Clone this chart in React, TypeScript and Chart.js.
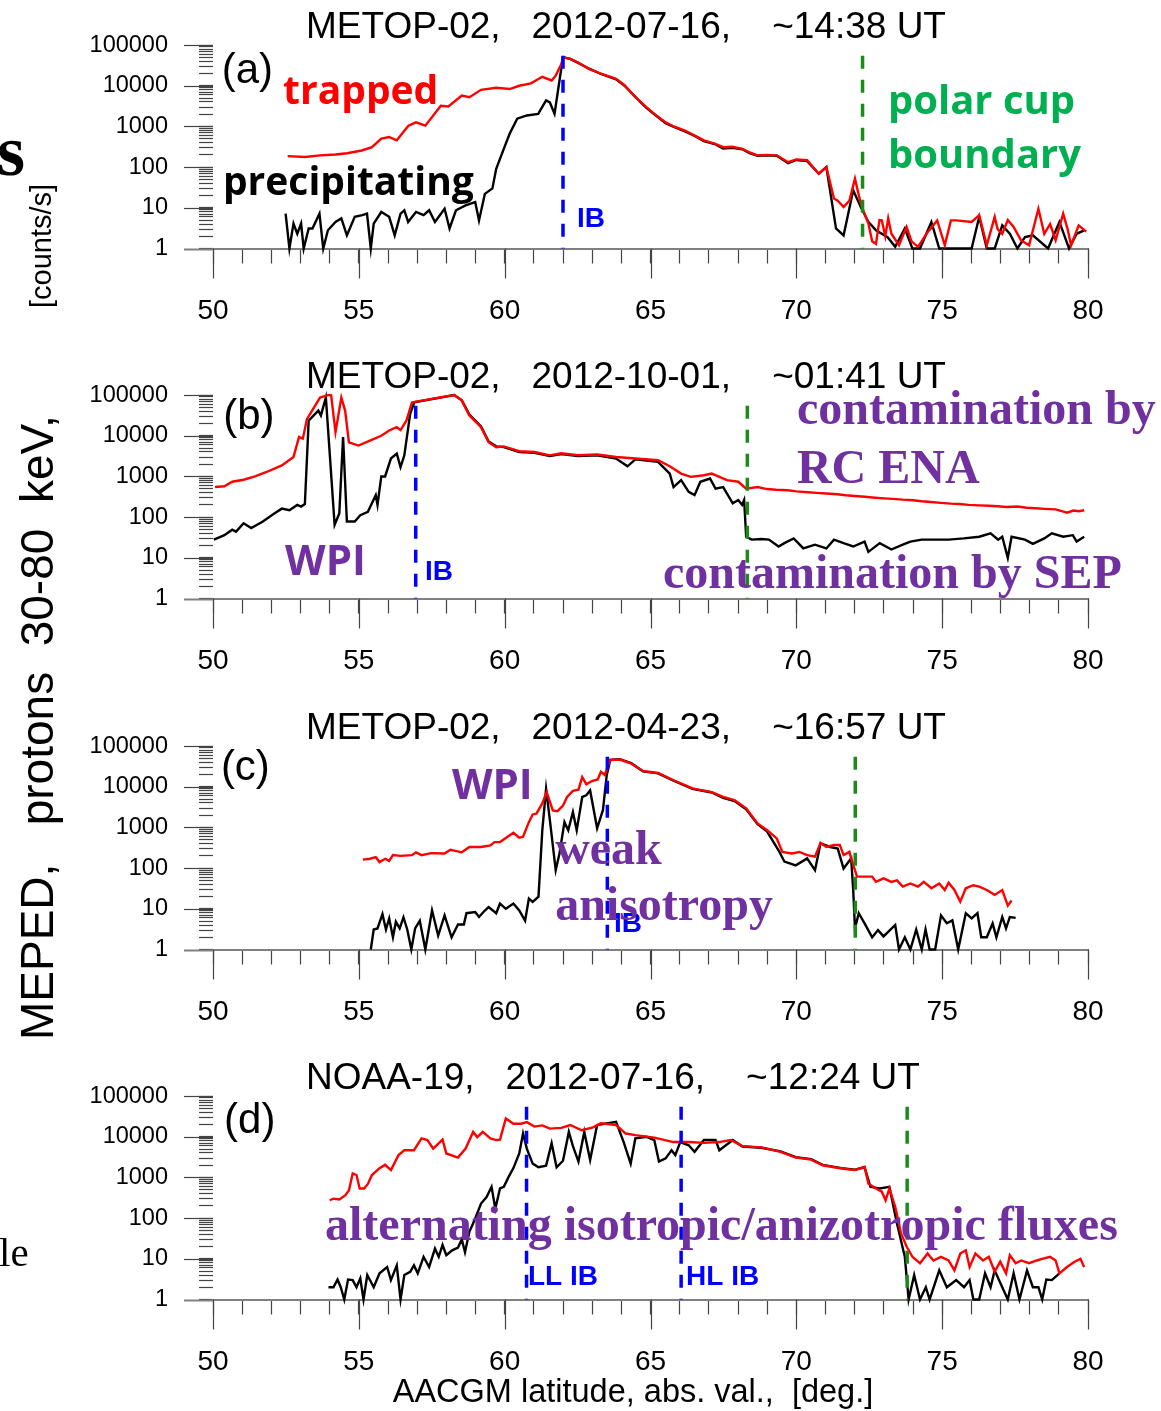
import React, { useEffect, useRef } from "react";
import { Chart, registerables } from "chart.js";

Chart.register(...registerables);

// ---------------- axes / ticks ----------------
const LAT_MIN = 50;
const LAT_MAX = 80;
const COUNT_MIN = 1;
const COUNT_MAX = 100000;
const MARKER_TOP = 55000;

const xTickValues = [50, 51, 52, 53, 54, 55, 56, 57, 58, 59, 60, 61, 62, 63, 64, 65, 66, 67, 68, 69, 70, 71, 72, 73, 74, 75, 76, 77, 78, 79, 80];
const xMajorTicks = [50, 55, 60, 65, 70, 75, 80];
const yTickValues = [
  1, 2, 3, 4, 5, 6, 7, 8, 9,
  10, 20, 30, 40, 50, 60, 70, 80, 90,
  100, 200, 300, 400, 500, 600, 700, 800, 900,
  1000, 2000, 3000, 4000, 5000, 6000, 7000, 8000, 9000,
  10000, 20000, 30000, 40000, 50000, 60000, 70000, 80000, 90000,
  100000,
];
const yMajorTicks = [1, 10, 100, 1000, 10000, 100000];

// ---------------- titles ----------------
const titleA = "METOP-02,   2012-07-16,    ~14:38 UT";
const titleB = "METOP-02,   2012-10-01,    ~01:41 UT";
const titleC = "METOP-02,   2012-04-23,    ~16:57 UT";
const titleD = "NOAA-19,   2012-07-16,    ~12:24 UT";
const xAxisTitle = "AACGM latitude, abs. val.,  [deg.]";
const yAxisTitle = "MEPED,   protons  30-80  keV,";
const yAxisUnit = "[counts/s]";

// ---------------- data: [latitude, counts/s] ----------------
// panel (a)
const aTrapped = [
  [52.56, 186], [53.15, 178], [53.67, 195], [54.2, 204], [54.6, 219], [55.1, 257], [55.45, 309], [55.77, 501],
  [56.04, 550], [56.3, 457], [56.7, 1047], [56.96, 1259], [57.28, 1047], [57.81, 3236], [58.07, 3090], [58.53, 5754],
  [58.79, 5248], [59.19, 7943], [59.71, 8913], [60.17, 8318], [60.5, 10000], [60.9, 11482], [61.29, 16596], [61.61, 13490],
  [61.75, 17783], [61.94, 33884], [62.0, 50119], [62.25, 45709], [62.5, 38000], [62.9, 25704], [63.3, 19950], [63.82, 14791],
  [64.1, 10470], [64.48, 5248], [64.7, 3800], [64.87, 2951], [65.13, 2042], [65.52, 1259], [65.8, 1000], [66.18, 794],
  [66.5, 603], [66.83, 457], [67.2, 380], [67.49, 309], [67.8, 316], [68.15, 282], [68.4, 229], [68.67, 195],
  [69.0, 200], [69.33, 195], [69.72, 132], [70.0, 155], [70.37, 148], [70.77, 69], [71.03, 100], [71.29, 17],
  [71.42, 15], [71.62, 10.5], [71.82, 15], [72.01, 52], [72.21, 12.6], [72.47, 4.1], [72.6, 1.5], [72.73, 1.3],
  [72.85, 5], [72.93, 4.9], [73.05, 2], [73.15, 5.5], [73.26, 2.3], [73.52, 1.2], [73.78, 3.4], [73.95, 1.5],
  [74.17, 1.1], [74.5, 2.5], [74.83, 4.9], [75.09, 1.2], [75.3, 4.9], [75.48, 4.9], [76.01, 4.5], [76.27, 6.6],
  [76.53, 1.2], [76.8, 6], [76.9, 3], [77.06, 2.3], [77.25, 5], [77.45, 3.4], [77.7, 1.6], [77.98, 1.2],
  [78.3, 9.5], [78.5, 2.3], [78.7, 4], [78.89, 1.6], [79.15, 7.2], [79.3, 3], [79.42, 1.2], [79.68, 3.7], [79.94, 2.6],
];
const aPrecip = [
  [52.49, 7.2], [52.62, 1], [52.76, 4.1], [52.89, 2.3], [53.02, 4.1], [53.11, 1], [53.28, 3.1], [53.41, 3.1],
  [53.65, 7.2], [53.78, 1], [53.94, 2.8], [54.2, 4.5], [54.4, 5.5], [54.59, 2.1], [54.86, 6], [55.12, 6.6],
  [55.28, 7.2], [55.41, 1], [55.51, 4.1], [55.77, 7.9], [56.04, 6], [56.23, 2.1], [56.43, 7.2], [56.56, 8.7],
  [56.69, 4.5], [56.96, 7.9], [57.22, 6.6], [57.41, 8.7], [57.61, 4.5], [57.94, 9.5], [58.11, 3.1], [58.33, 8.7],
  [58.66, 11.5], [58.99, 13.8], [59.12, 4.9], [59.32, 22], [59.58, 30], [59.71, 91], [59.97, 282], [60.17, 661],
  [60.43, 1549], [60.76, 1862], [61.15, 2042], [61.42, 4365], [61.55, 3890], [61.71, 2042], [61.88, 13490], [62.0, 50119],
  [62.25, 45709], [62.5, 37000], [62.9, 26303], [63.3, 19500], [63.82, 14454], [64.1, 10200], [64.48, 5370], [64.7, 3700],
  [64.87, 2818], [65.13, 1995], [65.52, 1202], [65.8, 980], [66.18, 759], [66.5, 590], [66.83, 437], [67.2, 370],
  [67.49, 288], [67.8, 300], [68.15, 275], [68.4, 220], [68.67, 191], [69.0, 195], [69.33, 191], [69.72, 126],
  [70.0, 150], [70.37, 141], [70.77, 69], [71.03, 100], [71.36, 3.1], [71.62, 2.1], [71.95, 27], [72.21, 10.5],
  [72.47, 4.5], [72.73, 2.8], [73.13, 1.9], [73.39, 1.1], [73.72, 3.1], [73.98, 1], [74.24, 1], [74.63, 4.5],
  [74.9, 1], [76.01, 1], [76.27, 6], [76.53, 1], [76.8, 1], [77.06, 3.7], [77.32, 2.3], [77.58, 1],
  [77.84, 1.9], [78.11, 2.1], [78.63, 1], [79.02, 4.5], [79.35, 1], [79.61, 2.3], [79.87, 2.8],
];

// panel (b)
const bTrapped = [
  [50.07, 550], [50.39, 575], [50.66, 741], [51.05, 832], [51.44, 1000], [51.84, 1288], [52.36, 1862], [52.76, 3020],
  [52.95, 9333], [53.08, 8511], [53.22, 25704], [53.67, 87096], [53.94, 100000], [54.05, 100000], [54.2, 12303], [54.4, 87096],
  [54.53, 41687], [54.66, 6918], [54.99, 5754], [55.38, 7586], [55.77, 10000], [56.04, 13490], [56.3, 16218], [56.43, 13804],
  [56.63, 23442], [56.82, 66069], [56.96, 69183], [58.27, 100000], [58.53, 74131], [58.79, 31623], [59.19, 16218], [59.45, 6918],
  [59.71, 5248], [59.97, 5495], [60.5, 4169], [61.02, 3981], [61.55, 3311], [61.94, 3715], [62.51, 3311], [63.17, 3467],
  [63.82, 3020], [64.48, 2754], [65.26, 2512], [65.66, 1778], [66.05, 1175], [66.38, 977], [66.83, 1072], [67.1, 1175],
  [67.62, 813], [68.01, 741], [68.28, 501], [68.67, 550], [69.0, 490], [69.3, 470], [69.71, 457], [70.0, 430],
  [70.4, 410], [70.7, 395], [71.03, 380], [71.4, 365], [71.7, 345], [72.0, 330], [72.34, 316], [72.7, 300],
  [73.0, 290], [73.3, 282], [73.65, 269], [74.0, 260], [74.3, 245], [74.6, 235], [74.96, 224], [75.3, 215],
  [75.6, 210], [75.9, 200], [76.27, 195], [76.6, 190], [76.9, 185], [77.2, 178], [77.58, 182], [77.9, 170],
  [78.2, 165], [78.5, 160], [78.89, 155], [79.1, 140], [79.28, 129], [79.5, 145], [79.7, 140], [79.87, 148],
];
const bPrecip = [
  [50.03, 28], [50.39, 36], [50.66, 49], [50.79, 44], [51.05, 71], [51.31, 54], [51.71, 78], [52.1, 123],
  [52.36, 162], [52.62, 148], [52.89, 200], [53.02, 182], [53.15, 209], [53.28, 23442], [53.61, 41687], [53.7, 31623],
  [53.87, 87096], [54.17, 65], [54.33, 123], [54.46, 9333], [54.59, 78], [54.86, 78], [55.05, 112], [55.31, 135],
  [55.58, 347], [55.64, 200], [55.77, 1000], [55.9, 1000], [56.1, 2754], [56.3, 3631], [56.43, 1698], [56.56, 3311],
  [56.76, 34674], [56.9, 66069], [58.27, 100000], [58.53, 74131], [58.79, 33113], [59.19, 16982], [59.45, 7244], [59.71, 5495],
  [59.97, 5248], [60.5, 3981], [61.02, 3802], [61.55, 3162], [61.94, 3548], [62.51, 3162], [63.17, 3311], [63.82, 2754],
  [64.21, 1778], [64.48, 2630], [65.26, 2291], [65.66, 1175], [65.79, 550], [66.05, 813], [66.31, 417], [66.51, 347],
  [66.71, 741], [67.04, 891], [67.23, 501], [67.49, 550], [67.69, 316], [67.82, 219], [68.01, 263], [68.14, 200],
  [68.21, 263], [68.28, 33], [68.47, 28], [68.8, 29], [69.06, 28], [69.39, 19], [69.59, 23], [69.91, 30],
  [70.24, 17], [70.64, 21], [71.03, 17], [71.29, 28], [71.62, 23], [71.95, 19], [72.34, 25], [72.47, 14],
  [72.86, 23], [73.26, 16], [73.65, 21], [73.91, 25], [74.3, 28], [74.7, 28], [75.22, 28], [75.74, 30],
  [76.27, 33], [76.66, 40], [76.92, 28], [77.06, 33], [77.25, 10], [77.38, 33], [77.84, 28], [78.11, 22],
  [78.5, 30], [78.76, 40], [79.15, 33], [79.48, 36], [79.61, 25], [79.87, 33],
];

// panel (c)
const cTrapped = [
  [55.14, 162], [55.38, 170], [55.58, 186], [55.71, 141], [55.9, 170], [56.04, 151], [56.17, 209], [56.43, 200],
  [56.82, 209], [56.96, 245], [57.15, 209], [57.48, 234], [57.94, 229], [58.14, 282], [58.53, 245], [58.79, 331],
  [59.19, 331], [59.51, 363], [59.65, 437], [59.84, 437], [60.1, 589], [60.3, 741], [60.5, 562], [60.63, 589],
  [60.83, 1349], [60.96, 2089], [61.09, 2188], [61.29, 3890], [61.44, 7413], [61.65, 2630], [61.81, 2512], [62.0, 3467],
  [62.14, 5623], [62.34, 7943], [62.53, 8511], [62.66, 17378], [62.8, 11482], [62.99, 13804], [63.19, 15136], [63.3, 23442],
  [63.43, 19498], [63.62, 45709], [63.95, 46774], [64.34, 37154], [64.74, 24547], [65.26, 21878], [65.79, 14454], [66.44, 9120],
  [67.1, 7413], [67.49, 5623], [67.88, 4677], [68.28, 2951], [68.67, 1259], [69.0, 851], [69.33, 537], [69.52, 251],
  [69.85, 229], [70.11, 251], [70.37, 209], [70.64, 191], [70.83, 417], [71.03, 331], [71.29, 372], [71.49, 372],
  [71.62, 209], [71.82, 251], [71.88, 174], [72.08, 62], [72.34, 62], [72.6, 62], [72.73, 46], [72.99, 56],
  [73.26, 46], [73.45, 50], [73.65, 35], [73.91, 42], [74.17, 35], [74.37, 46], [74.63, 32], [74.9, 42],
  [75.09, 29], [75.22, 44], [75.42, 29], [75.62, 15], [75.81, 32], [76.07, 38], [76.27, 35], [76.53, 29],
  [76.8, 22], [77.06, 29], [77.25, 12], [77.38, 16],
];
const cPrecip = [
  [55.41, 1], [55.51, 3.1], [55.64, 3.3], [55.81, 7.4], [55.93, 3.1], [56.04, 5.8], [56.17, 2], [56.27, 4.8],
  [56.4, 3.3], [56.53, 6.2], [56.66, 3.1], [56.8, 1], [56.93, 3.3], [57.09, 5.1], [57.28, 1], [57.51, 9.1],
  [57.72, 2.2], [57.94, 6.9], [58.18, 2], [58.4, 4.1], [58.6, 4.1], [58.69, 7.8], [58.99, 8.3], [59.12, 6.3],
  [59.32, 9.1], [59.45, 11], [59.71, 7.8], [59.84, 13.5], [60.04, 10], [60.3, 13.5], [60.5, 9.1], [60.7, 5.1],
  [60.83, 17.8], [60.96, 14.8], [61.16, 20], [61.29, 851], [61.42, 8913], [61.55, 1514], [61.75, 89], [61.88, 229],
  [62.05, 1349], [62.18, 851], [62.34, 2399], [62.47, 851], [62.66, 5623], [62.8, 6166], [62.93, 8128], [63.17, 955],
  [63.37, 2692], [63.5, 19498], [63.62, 45709], [63.95, 47863], [64.34, 38019], [64.74, 23988], [65.26, 21380], [65.79, 14125],
  [66.44, 8913], [67.1, 7244], [67.49, 5370], [67.88, 4467], [68.28, 2818], [68.67, 1202], [69.0, 794], [69.39, 275],
  [69.59, 145], [69.98, 117], [70.37, 174], [70.64, 89], [70.83, 407], [71.16, 331], [71.42, 302], [71.62, 98],
  [71.88, 174], [71.95, 29], [72.01, 3.3], [72.14, 7.8], [72.34, 4.4], [72.6, 2], [72.8, 3], [72.99, 2.1],
  [73.39, 4], [73.52, 1], [73.72, 2], [73.91, 1], [74.11, 3.1], [74.3, 1], [74.43, 3.1], [74.57, 1],
  [74.76, 1], [74.96, 6.9], [75.16, 4.4], [75.35, 5.2], [75.55, 1], [75.81, 7.8], [76.01, 5.8], [76.21, 7.8],
  [76.34, 2], [76.53, 2], [76.73, 4.4], [76.86, 2], [77.06, 6.3], [77.19, 3.3], [77.32, 6.3], [77.52, 6],
];

// panel (d)
const dTrapped = [
  [54.0, 275], [54.13, 302], [54.33, 288], [54.53, 363], [54.66, 479], [54.79, 1259], [54.92, 1148], [55.03, 537],
  [55.18, 537], [55.31, 692], [55.45, 1148], [55.71, 1698], [55.9, 2042], [56.1, 1514], [56.36, 3548], [56.56, 4677],
  [56.89, 4677], [57.15, 9120], [57.35, 8318], [57.55, 5129], [57.87, 8511], [58.0, 3890], [58.4, 3090], [58.66, 5129],
  [58.92, 13183], [59.06, 9772], [59.25, 13183], [59.51, 9120], [59.71, 8318], [59.84, 8511], [60.04, 28184], [60.3, 20893],
  [60.56, 20893], [60.76, 22909], [61.02, 17783], [61.29, 19055], [61.55, 15849], [61.94, 16596], [62.25, 19498], [62.64, 14454],
  [63.03, 16982], [63.3, 21380], [63.82, 19498], [64.15, 12023], [64.48, 10965], [65.13, 9550], [65.79, 7413], [66.31, 7413],
  [66.83, 7079], [67.36, 7413], [67.75, 8318], [68.15, 5888], [68.8, 5495], [69.46, 4266], [69.98, 3090], [70.51, 2754],
  [70.9, 1995], [71.55, 1660], [72.01, 1514], [72.34, 1820], [72.47, 708], [72.73, 537], [72.93, 447], [73.06, 275],
  [73.19, 537], [73.39, 191], [73.59, 42], [73.78, 20], [73.98, 11.2], [74.24, 7.8], [74.5, 13.5], [74.7, 9.1],
  [74.96, 11.2], [75.22, 9.1], [75.42, 5.2], [75.62, 13.5], [75.81, 16.2], [75.94, 6.3], [76.14, 13.5], [76.4, 9.1],
  [76.6, 11.2], [76.8, 4.8], [76.99, 8.5], [77.19, 4.4], [77.32, 12.3], [77.52, 7.8], [77.71, 9.1], [77.98, 7.8],
  [78.24, 9.1], [78.43, 10], [78.7, 11.2], [78.89, 9.1], [79.02, 4.4], [79.28, 6.3], [79.54, 8.5], [79.74, 10], [79.87, 6.3],
];
const dPrecip = [
  [53.96, 2], [54.13, 2], [54.27, 3.1], [54.38, 2], [54.5, 1], [54.63, 3.1], [54.79, 3], [54.92, 2],
  [55.05, 3.3], [55.16, 1], [55.29, 4], [55.51, 2], [55.71, 4.4], [55.97, 6.3], [56.1, 3], [56.3, 6.9],
  [56.43, 1], [56.56, 4], [56.76, 4.8], [56.89, 6.9], [57.02, 4.4], [57.22, 11.2], [57.41, 6.3], [57.61, 17.8],
  [57.74, 11.2], [57.87, 21.9], [58.0, 12.3], [58.2, 16.2], [58.4, 19], [58.53, 30], [58.64, 14.5], [58.79, 46],
  [58.99, 98], [59.19, 229], [59.38, 331], [59.55, 589], [59.68, 170], [59.84, 537], [59.97, 589], [60.14, 1047],
  [60.3, 1698], [60.5, 3890], [60.63, 12023], [60.76, 5129], [60.96, 2188], [61.16, 1778], [61.42, 1950], [61.61, 6918],
  [61.78, 1778], [62.0, 2570], [62.2, 13183], [62.34, 5888], [62.53, 2455], [62.73, 13183], [62.93, 2692], [63.17, 19498],
  [63.82, 23442], [64.08, 7413], [64.32, 2188], [64.48, 9120], [64.87, 10000], [65.13, 8318], [65.29, 2455], [65.52, 2951],
  [65.72, 4677], [65.85, 3548], [66.02, 7413], [66.31, 6166], [66.51, 4266], [66.83, 8318], [67.23, 8318], [67.36, 4677],
  [67.82, 8318], [68.15, 5754], [68.8, 5370], [69.46, 4365], [69.98, 3162], [70.51, 2818], [70.9, 2042], [71.55, 1698],
  [72.01, 1549], [72.34, 1778], [72.54, 589], [72.86, 537], [73.19, 589], [73.45, 74], [73.72, 11.2], [73.85, 1],
  [74.04, 4], [74.24, 1], [74.44, 2], [74.57, 1], [74.9, 5.2], [75.16, 2], [75.48, 3], [75.75, 2],
  [75.94, 3], [76.07, 1], [76.27, 1], [76.47, 4.4], [76.66, 2], [76.8, 5.2], [77.06, 2], [77.25, 1],
  [77.45, 4.4], [77.65, 1], [77.91, 5.2], [78.11, 2], [78.3, 2], [78.43, 1], [78.57, 3.1], [78.76, 3], [79.02, 4.4],
];

// boundary latitudes (vertical dashed markers)
const aBoundaries = [62.0, 72.27];
const bBoundaries = [56.95, 68.32];
const cBoundaries = [63.52, 72.02];
const dBoundaries = [60.75, 66.05, 73.8];

// ---------------- styles ----------------
const ARIAL = "'Liberation Sans', Arial, sans-serif";
const TIMES = "'Liberation Serif', 'Times New Roman', serif";
const CALIBRI = "'Open Sans', 'Noto Sans', sans-serif";
const RED = "#ff0000";
const BLUE = "#0000ff";
const GREEN_LINE = "#1b8a1b";
const GREEN_TEXT = "#00b050";
const PURPLE = "#7030a0";
const TICK_COLOR = "#444444";
const AXIS_COLOR = "#808080";

type Ann = { text: string; lat: number; val: number; color: string; font: string };

const panels = [
  {
    top: 0,
    height: 350,
    title: titleA,
    trapped: aTrapped,
    precip: aPrecip,
    markers: [
      { lat: aBoundaries[0], color: BLUE },
      { lat: aBoundaries[1], color: GREEN_LINE },
    ],
    annotations: [
      { text: "(a)", lat: 50.3, val: 11750, color: "#000", font: `42px ${ARIAL}` },
      { text: "IB", lat: 62.48, val: 3.36, color: BLUE, font: `bold 28px ${ARIAL}` },
      { text: "trapped", lat: 52.4, val: 3606, color: RED, font: `bold 39px ${CALIBRI}` },
      { text: "precipitating", lat: 50.34, val: 20.3, color: "#000", font: `bold 39px ${CALIBRI}` },
      { text: "polar cup", lat: 73.14, val: 2056, color: GREEN_TEXT, font: `bold 40px ${CALIBRI}` },
      { text: "boundary", lat: 73.14, val: 92.9, color: GREEN_TEXT, font: `bold 40px ${CALIBRI}` },
    ] as Ann[],
  },
  {
    top: 350,
    height: 350,
    title: titleB,
    trapped: bTrapped,
    precip: bPrecip,
    markers: [
      { lat: bBoundaries[0], color: BLUE },
      { lat: bBoundaries[1], color: GREEN_LINE },
    ],
    annotations: [
      { text: "(b)", lat: 50.35, val: 14800, color: "#000", font: `42px ${ARIAL}` },
      { text: "IB", lat: 57.27, val: 2.83, color: BLUE, font: `bold 28px ${ARIAL}` },
      { text: "WPI", lat: 52.47, val: 3.76, color: PURPLE, font: `bold 42px ${CALIBRI}` },
      { text: "contamination by", lat: 70.02, val: 19500, color: PURPLE, font: `bold 48px ${TIMES}` },
      { text: "RC ENA", lat: 70.02, val: 708, color: PURPLE, font: `bold 48px ${TIMES}` },
      { text: "contamination by SEP", lat: 65.43, val: 1.81, color: PURPLE, font: `bold 48px ${TIMES}` },
    ] as Ann[],
  },
  {
    top: 701,
    height: 350,
    title: titleC,
    trapped: cTrapped,
    precip: cPrecip,
    markers: [
      { lat: cBoundaries[0], color: BLUE },
      { lat: cBoundaries[1], color: GREEN_LINE },
    ],
    annotations: [
      { text: "(c)", lat: 50.27, val: 14800, color: "#000", font: `42px ${ARIAL}` },
      { text: "IB", lat: 63.75, val: 2.69, color: BLUE, font: `bold 28px ${ARIAL}` },
      { text: "WPI", lat: 58.19, val: 5012, color: PURPLE, font: `bold 42px ${CALIBRI}` },
      { text: "weak", lat: 61.73, val: 130, color: PURPLE, font: `bold 48px ${TIMES}` },
      { text: "anisotropy", lat: 61.73, val: 5.25, color: PURPLE, font: `bold 48px ${TIMES}` },
    ] as Ann[],
  },
  {
    top: 1051,
    height: 360,
    title: titleD,
    trapped: dTrapped,
    precip: dPrecip,
    markers: [
      { lat: dBoundaries[0], color: BLUE },
      { lat: dBoundaries[1], color: BLUE },
      { lat: dBoundaries[2], color: GREEN_LINE },
    ],
    annotations: [
      { text: "(d)", lat: 50.38, val: 12450, color: "#000", font: `42px ${ARIAL}` },
      { text: "LL IB", lat: 60.8, val: 2.26, color: BLUE, font: `bold 28px ${ARIAL}` },
      { text: "HL IB", lat: 66.22, val: 2.26, color: BLUE, font: `bold 28px ${ARIAL}` },
      { text: "alternating isotropic/anizotropic fluxes", lat: 53.84, val: 28.5, color: PURPLE, font: `bold 48px ${TIMES}` },
    ] as Ann[],
    xTitle: xAxisTitle,
  },
];

type Panel = (typeof panels)[number] & { xTitle?: string };

function PanelChart({ panel }: { panel: Panel }) {
  const ref = useRef<HTMLCanvasElement>(null);
  useEffect(() => {
    const canvas = ref.current;
    if (!canvas) return;
    const H = panel.height;
    const datasets: any[] = [];
    panel.markers.forEach((m) => {
      datasets.push({
        data: [
          { x: m.lat, y: MARKER_TOP },
          { x: m.lat, y: COUNT_MIN },
        ],
        borderColor: m.color,
        borderWidth: 3.5,
        borderDash: [13, 11],
        pointRadius: 0,
        order: 0,
        clip: false,
      });
    });
    datasets.push({
      label: "trapped",
      data: panel.trapped.map(([x, y]) => ({ x, y })),
      borderColor: RED,
      borderWidth: 2.4,
      pointRadius: 0,
      tension: 0,
      order: 1,
      clip: false,
    });
    datasets.push({
      label: "precipitating",
      data: panel.precip.map(([x, y]) => ({ x, y })),
      borderColor: "#000000",
      borderWidth: 2.4,
      pointRadius: 0,
      tension: 0,
      order: 2,
      clip: false,
    });

    const decor = {
      id: "decor",
      afterDraw(chart: any) {
        const { ctx, chartArea } = chart;
        const xs = chart.scales.x;
        const ys = chart.scales.y;
        ctx.save();
        // longer major tick marks
        ctx.lineWidth = 1.2;
        xMajorTicks.forEach((v) => {
          const px = Math.round(xs.getPixelForValue(v)) + 0.5;
          ctx.strokeStyle = TICK_COLOR;
          ctx.beginPath();
          ctx.moveTo(px, chartArea.bottom);
          ctx.lineTo(px, chartArea.bottom + 30);
          ctx.stroke();
        });
        yMajorTicks.forEach((v) => {
          const py = Math.round(ys.getPixelForValue(v)) + 0.5;
          ctx.strokeStyle = v === COUNT_MIN ? AXIS_COLOR : TICK_COLOR;
          ctx.lineWidth = v === COUNT_MIN ? 2 : 1.2;
          ctx.beginPath();
          ctx.moveTo(chartArea.left - 29, py);
          ctx.lineTo(chartArea.left, py);
          ctx.stroke();
        });
        // panel title
        ctx.fillStyle = "#000";
        ctx.font = `37px ${ARIAL}`;
        ctx.textAlign = "left";
        ctx.textBaseline = "middle";
        ctx.fillText(panel.title, 306, 28);
        // annotations
        ctx.textBaseline = "alphabetic";
        panel.annotations.forEach((a: Ann) => {
          ctx.font = a.font;
          ctx.fillStyle = a.color;
          ctx.fillText(a.text, xs.getPixelForValue(a.lat), ys.getPixelForValue(a.val));
        });
        if (panel.xTitle) {
          ctx.font = `32.5px ${ARIAL}`;
          ctx.fillStyle = "#000";
          ctx.textAlign = "center";
          ctx.textBaseline = "middle";
          ctx.fillText(panel.xTitle, 633, H - 18);
        }
        ctx.restore();
      },
    };

    const chart = new Chart(canvas, {
      type: "line",
      data: { datasets },
      options: {
        animation: false,
        responsive: false,
        maintainAspectRatio: false,
        devicePixelRatio: 1,
        events: [],
        layout: { padding: { top: 44, right: 73, left: 0, bottom: 0 } },
        plugins: {
          legend: { display: false },
          tooltip: { enabled: false },
          title: { display: false },
        },
        scales: {
          x: {
            type: "linear",
            min: LAT_MIN,
            max: LAT_MAX,
            afterBuildTicks: (s: any) => {
              s.ticks = xTickValues.map((v) => ({ value: v }));
            },
            afterFit: (s: any) => {
              s.height = H - 248.5;
            },
            grid: {
              drawOnChartArea: false,
              drawTicks: true,
              tickLength: 15,
              tickColor: TICK_COLOR,
              tickWidth: 1.2,
              color: TICK_COLOR,
            },
            border: { display: true, color: AXIS_COLOR, width: 2 },
            ticks: {
              autoSkip: false,
              maxRotation: 0,
              minRotation: 0,
              padding: 31,
              color: "#000",
              font: { family: ARIAL, size: 28 },
              callback: (v: any) => (xMajorTicks.includes(Number(v)) ? String(v) : ""),
            },
          },
          y: {
            type: "logarithmic",
            min: COUNT_MIN,
            max: COUNT_MAX,
            afterBuildTicks: (s: any) => {
              s.ticks = yTickValues.map((v) => ({ value: v }));
            },
            afterFit: (s: any) => {
              s.width = 213;
            },
            grid: {
              drawOnChartArea: false,
              drawTicks: true,
              tickLength: 14,
              tickColor: TICK_COLOR,
              tickWidth: 1.2,
              color: TICK_COLOR,
            },
            border: { display: false },
            ticks: {
              autoSkip: false,
              padding: 31,
              color: "#000",
              font: { family: ARIAL, size: 23.5 },
              callback: (v: any) => (yMajorTicks.includes(Number(v)) ? String(v) : ""),
            },
          },
        },
      } as any,
      plugins: [decor],
    });
    return () => chart.destroy();
  }, [panel]);

  return (
    <canvas
      ref={ref}
      width={1161}
      height={panel.height}
      style={{ position: "absolute", left: 0, top: panel.top, width: 1161, height: panel.height, display: "block" }}
    />
  );
}

export default function App() {
  return (
    <div
      style={{
        position: "absolute",
        left: 0,
        top: 0,
        width: 1161,
        height: 1411,
        background: "#ffffff",
        overflow: "hidden",
      }}
    >
      {panels.map((p, i) => (
        <PanelChart key={i} panel={p as Panel} />
      ))}
      {/* vertical y-axis title */}
      <div
        style={{
          position: "absolute",
          left: 14,
          top: 1040,
          transform: "rotate(-90deg)",
          transformOrigin: "left top",
          whiteSpace: "pre",
          fontFamily: ARIAL,
          fontSize: 46,
          lineHeight: 1,
          color: "#000",
        }}
      >
        {yAxisTitle}
      </div>
      <div
        style={{
          position: "absolute",
          left: 27,
          top: 308,
          transform: "rotate(-90deg)",
          transformOrigin: "left top",
          whiteSpace: "pre",
          fontFamily: ARIAL,
          fontSize: 29,
          lineHeight: 1,
          color: "#000",
        }}
      >
        {yAxisUnit}
      </div>
      {/* fragments of neighbouring page text */}
      <div
        style={{
          position: "absolute",
          left: -3,
          top: 115,
          fontFamily: TIMES,
          fontWeight: "bold",
          fontSize: 72,
          lineHeight: 1,
          color: "#000",
        }}
      >
        s
      </div>
      <div
        style={{
          position: "absolute",
          left: -1,
          top: 1232,
          fontFamily: TIMES,
          fontSize: 41,
          lineHeight: 1,
          color: "#000",
        }}
      >
        le
      </div>
    </div>
  );
}
